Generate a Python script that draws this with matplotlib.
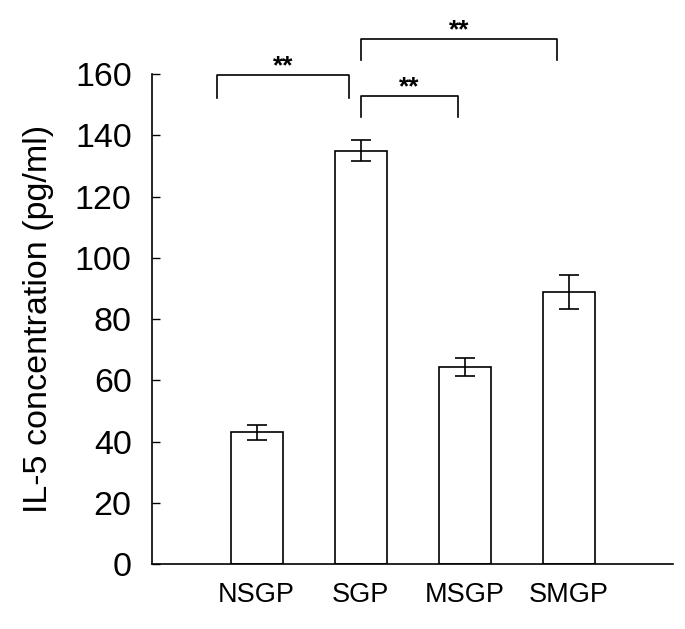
import matplotlib
matplotlib.use("Agg")
import matplotlib.pyplot as plt
import numpy as np

plt.rcParams['font.family'] = ['Liberation Sans', 'DejaVu Sans']

groups = ['NSGP', 'SGP', 'MSGP', 'SMGP']
il5 = [43.1, 135.0, 64.4, 88.9]
il5_err = [2.5, 3.3, 3.0, 5.6]

# significance brackets: x start, x end, top y, leg bottom y
brackets = [(-0.38, 0.89, 159.6, 152.3),
            (1.0, 1.93, 152.8, 145.8),
            (1.0, 2.88, 171.5, 164.4)]
marks = ['**', '**', '**']

fig = plt.figure(figsize=(6.85, 6.29), dpi=100)
ax = fig.add_axes([0.2226, 0.1029, 0.983 - 0.2226, 0.8824 - 0.1029])

x = np.arange(len(groups))
ax.bar(x, il5, width=0.5, color='white', edgecolor='black', linewidth=1.2,
       yerr=il5_err, capsize=7.5, error_kw=dict(elinewidth=1.2, capthick=1.2, ecolor='black'))

for (x1, x2, ytop, ybot), m in zip(brackets, marks):
    ax.plot([x1, x1, x2, x2], [ybot, ytop, ytop, ybot], color='black', lw=1.2, clip_on=False)
    ax.annotate(m, xy=((x1 + x2) / 2, ytop), xytext=(0, 1), textcoords='offset points',
                ha='center', va='baseline', fontsize=19, fontweight='bold', annotation_clip=False)

ax.set_xlim(-1, 4)
ax.set_ylim(0, 160)
ax.set_yticks(np.arange(0, 161, 20))
ax.set_xticks(x)
ax.set_xticklabels(groups, fontsize=19.5)
ax.tick_params(axis='y', direction='in', length=6, width=1.0, labelsize=24.5, pad=15)
ax.tick_params(axis='x', length=0, pad=13)
ax.spines['top'].set_visible(False)
ax.spines['right'].set_visible(False)
ax.spines['left'].set_linewidth(1.2)
ax.spines['bottom'].set_linewidth(1.2)
ax.set_ylabel('IL-5 concentration (pg/ml)', fontsize=24.5, labelpad=15)

fig.savefig('out.png', dpi=100)
